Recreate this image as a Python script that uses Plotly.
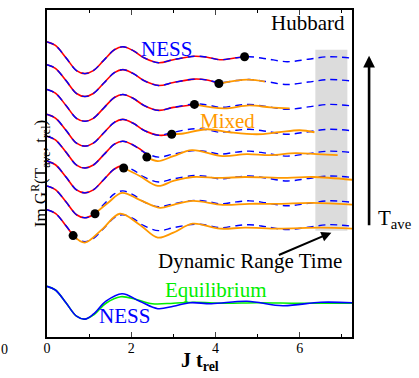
import plotly.graph_objects as go

# ---- data (arbitrary units) ----
offsets = [29.7, 27.4, 24.9, 22.4, 20.2, 17.7, 15.2, 12.8]
eq_offset = 5.1

ness_t = [0, 0.2, 0.45, 0.7, 0.9, 1.1, 1.35, 1.6, 1.8, 2.05, 2.3, 2.65, 3.0, 3.5, 3.8, 4.1, 4.5, 4.8, 5.2, 5.7, 6.2, 6.7, 7.24]
ness_v = [0, -0.37, -1.6, -2.9, -3.2, -2.9, -1.85, -0.8, -0.5, -0.9, -1.6, -2.1, -1.8, -1.45, -1.55, -1.8, -1.6, -1.5, -1.7, -2.0, -1.75, -1.5, -1.65]

dot_t = [4.69, 4.08, 3.50, 2.96, 2.37, 1.82, 1.14, 0.62]
dot_v = [-1.5, -1.9, -1.5, -2.0, -2.1, -0.7, -2.8, -2.6]

mixed_t = [
    [],
    [4.08, 4.76, 5.17],
    [3.5, 4.2, 4.8, 5.3, 5.76],
    [2.96, 3.2, 3.8, 4.34, 4.98, 5.5, 6.0, 6.35],
    [2.37, 2.63, 3.0, 3.44, 4.17, 4.74, 5.3, 5.9, 6.4, 6.9],
    [1.82, 2.2, 2.63, 3.0, 3.46, 4.1, 4.7, 5.7, 6.3, 7.3],
    [1.14, 1.45, 1.78, 2.2, 2.68, 3.0, 3.46, 4.17, 4.8, 5.5, 6.3, 7.3],
    [0.62, 0.9, 1.3, 1.73, 2.2, 2.63, 3.0, 3.46, 4.1, 4.7, 5.5, 6.5, 7.3],
]
mixed_v = [
    [],
    [-1.9, -1.5, -1.7],
    [-1.5, -1.9, -1.6, -1.8, -1.9],
    [-2.0, -1.95, -1.5, -1.8, -2.0, -1.8, -1.6, -1.8],
    [-2.1, -2.5, -2.0, -1.4, -2.0, -1.8, -1.9, -1.7, -1.8, -1.9],
    [-0.7, -1.5, -2.5, -2.0, -1.6, -1.7, -1.6, -1.7, -1.6, -1.9],
    [-2.8, -1.7, -0.7, -1.4, -2.2, -1.9, -1.5, -1.9, -1.8, -1.8, -1.7, -1.9],
    [-2.6, -3.3, -2.0, -0.4, -1.5, -2.8, -2.3, -1.4, -1.9, -1.8, -1.9, -1.8, -1.9],
]

eq_t = [0, 0.2, 0.45, 0.7, 0.9, 1.1, 1.4, 1.75, 2.1, 2.5, 3.0, 3.5, 4.2, 5.0, 6.0, 7.24]
eq_v = [0, -0.37, -1.65, -3.0, -3.3, -2.9, -1.7, -1.05, -1.3, -1.75, -1.7, -1.6, -1.7, -1.65, -1.7, -1.7]

ness0_t = [0, 0.2, 0.45, 0.7, 0.9, 1.1, 1.4, 1.78, 2.2, 2.63, 3.0, 3.4, 3.9, 4.75, 5.6, 6.5, 7.24]
ness0_v = [0, -0.37, -1.65, -3.0, -3.3, -2.8, -1.5, -0.75, -1.5, -2.25, -2.0, -1.65, -1.75, -1.5, -1.95, -1.6, -1.65]

x_ticks = [0, 2, 4, 6]

RED = "#ff0000"
BLUE = "#0000ff"
ORANGE = "#ff9900"
GREEN = "#00ee00"
SERIF = "Liberation Serif"

fig = go.Figure()

for k, off in enumerate(offsets):
    # exact (red) part up to the dot
    rt = [t for t in ness_t if t < dot_t[k]] + [dot_t[k]]
    rv = [off + v for t, v in zip(ness_t, ness_v) if t < dot_t[k]] + [off + dot_v[k]]
    fig.add_trace(go.Scatter(x=rt, y=rv, mode="lines", line=dict(color=RED, width=1.6, shape="spline"),
                             showlegend=False, hoverinfo="skip"))
for k, off in enumerate(offsets):
    fig.add_trace(go.Scatter(x=ness_t, y=[off + v for v in ness_v], mode="lines",
                             line=dict(color=BLUE, width=1.4, dash="7px,5px", shape="spline"),
                             showlegend=False, hoverinfo="skip"))
for k, off in enumerate(offsets):
    if mixed_t[k]:
        fig.add_trace(go.Scatter(x=mixed_t[k], y=[off + v for v in mixed_v[k]], mode="lines",
                                 line=dict(color=ORANGE, width=1.8, shape="spline"),
                                 showlegend=False, hoverinfo="skip"))
fig.add_trace(go.Scatter(x=dot_t, y=[o + v for o, v in zip(offsets, dot_v)], mode="markers",
                         marker=dict(color="black", size=9), showlegend=False, hoverinfo="skip"))

fig.add_trace(go.Scatter(x=eq_t, y=[eq_offset + v for v in eq_v], mode="lines",
                         line=dict(color=GREEN, width=1.6, shape="spline"), showlegend=False, hoverinfo="skip"))
fig.add_trace(go.Scatter(x=ness0_t, y=[eq_offset + v for v in ness0_v], mode="lines",
                         line=dict(color=BLUE, width=1.6, shape="spline"), showlegend=False, hoverinfo="skip"))

fig.add_shape(type="rect", x0=6.37, x1=7.13, y0=10.7, y1=28.9, xref="x", yref="y",
              fillcolor="#dcdcdc", line=dict(width=0), layer="below")

def txt(x, y, s, color="black", size=16, **kw):
    fig.add_annotation(x=x, y=y, text=s, showarrow=False, font=dict(family=SERIF, size=size, color=color), **kw)

txt(6.2, 31.6, "Hubbard", size=21)
txt(2.84, 29.0, "NESS", BLUE, 21)
txt(4.29, 21.7, "Mixed", ORANGE, 21)
txt(4.81, 7.6, "Dynamic Range Time", size=21)
txt(4.0, 4.7, "Equilibrium", GREEN, 21)
txt(1.85, 2.1, "NESS", BLUE, 21)

# arrow to dynamic range
fig.add_annotation(x=6.75, y=10.5, ax=-54, ay=23, text="", showarrow=True, arrowhead=2,
                   arrowsize=1, arrowwidth=2, arrowcolor="black")
# T_ave arrow
fig.add_annotation(x=1.056, y=0.86, xref="paper", yref="paper", ax=0, ay=171, text="",
                   showarrow=True, arrowhead=2, arrowsize=0.9, arrowwidth=2.6, arrowcolor="black")
fig.add_annotation(x=1.08, y=0.36, xref="paper", yref="paper", xanchor="left", yanchor="middle",
                   text="T<sub>ave</sub>", showarrow=False, font=dict(family=SERIF, size=21, color="black"))
# axis titles
fig.add_annotation(x=-0.068, y=0.5, xref="paper", yref="paper", textangle=-90, showarrow=False,
                   text="Im G<sup>R</sup>(T<sub>ave</sub>, t<sub>rel</sub>)",
                   font=dict(family=SERIF, size=17, color="black"))
fig.add_annotation(x=0.5, y=-0.03, xref="paper", yref="paper", yanchor="top", showarrow=False,
                   text="<b>J t<sub>rel</sub></b>", font=dict(family=SERIF, size=20, color="black"))
fig.add_annotation(x=-0.157, y=-0.01, xref="paper", yref="paper", yanchor="top", showarrow=False,
                   text="0", font=dict(family=SERIF, size=14, color="black"))

fig.update_layout(
    width=419, height=378,
    margin=dict(l=47, r=67, t=8, b=41),
    paper_bgcolor="white", plot_bgcolor="white",
    xaxis=dict(range=[0, 7.24], tickvals=x_ticks, ticks="inside", ticklen=5, tickwidth=1,
               showline=True, linecolor="black", linewidth=2, mirror="ticks", zeroline=False, showgrid=False,
               tickfont=dict(family=SERIF, size=14, color="black"), ticklabelstandoff=-3,
               minor=dict(dtick=1, tick0=0, ticks="inside", ticklen=3, tickcolor="black", showgrid=False)),
    yaxis=dict(range=[0, 32.9], showticklabels=False, ticks="", showline=True, linecolor="black",
               linewidth=2, mirror=True, zeroline=False, showgrid=False),
)

fig.write_html("out.html", config={"displayModeBar": False},
               post_script="document.body.style.margin='0px';")
